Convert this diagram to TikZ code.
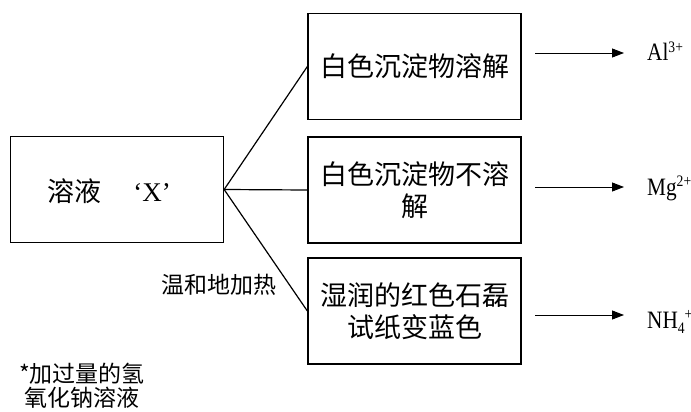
\documentclass[tikz,border=0pt]{standalone}
\usepackage{fontspec}
\setmainfont{Liberation Serif}
\newfontfamily\cjk{Noto Sans CJK SC}
\newfontfamily\ionfont[FakeStretch=0.85]{Liberation Serif}
\newcommand{\ionsup}[1]{\raisebox{8.5pt}{\fontsize{16}{16}\selectfont #1}}
\newcommand{\ionsub}[1]{\raisebox{-5pt}{\fontsize{16}{16}\selectfont #1}}
\usetikzlibrary{arrows.meta}
\begin{document}
\begin{tikzpicture}[x=1pt,y=-1pt,
  box/.style={draw,line width=1.3pt,minimum width=213pt,minimum height=106pt,inner sep=0pt,align=center,font=\cjk\fontsize{27}{32}\selectfont},
  conn/.style={line width=1.2pt},
  arr/.style={line width=0.9pt,-{Triangle[length=12pt,width=9pt]}},
  lbl/.style={anchor=base west,inner sep=0pt,font=\ionfont\fontsize{25}{27}\selectfont},
  note/.style={inner sep=0pt,align=center,font=\cjk\fontsize{23}{25}\selectfont}]
\useasboundingbox (0,0) rectangle (691,412);
\node[box] (X) at (117,189.5) {};
\node[inner sep=0pt,font=\cjk\fontsize{27}{31}\selectfont] (Xt) at (109,191) {溶液\hspace{1.2em}{\rmfamily‘X’}};
\node[box] (b1) at (414.5,66.5) {白色沉淀物溶解};
\node[box] (b2) at (414.5,190) {白色沉淀物不溶\\解};
\node[box] (b3) at (414.5,311) {湿润的红色石磊\\试纸变蓝色};
\draw[conn] (X.east) -- (b1.west);
\draw[conn] (X.east) -- (b2.west);
\draw[conn] (X.east) -- (b3.west);
\coordinate (s1) at (535,53);
\coordinate (e1) at (624,53);
\coordinate (s2) at (535,187);
\coordinate (e2) at (624,187);
\coordinate (s3) at (535,315);
\coordinate (e3) at (624,315);
\draw[arr] (s1) -- (e1);
\draw[arr] (s2) -- (e2);
\draw[arr] (s3) -- (e3);
\node[lbl] (l1) at (647,61) {Al\ionsup{3+}};
\node[lbl] (l2) at (647,195) {Mg\ionsup{2+}};
\node[lbl] (l3) at (647,328) {NH\ionsub{4}\ionsup{+}};
\node[note] (heat) at (219,285) {温和地加热};
\node[note,font=\cjk\fontsize{23}{24}\selectfont] (foot) at (82,386) {*加过量的氢\\氧化钠溶液};
\end{tikzpicture}
\end{document}
